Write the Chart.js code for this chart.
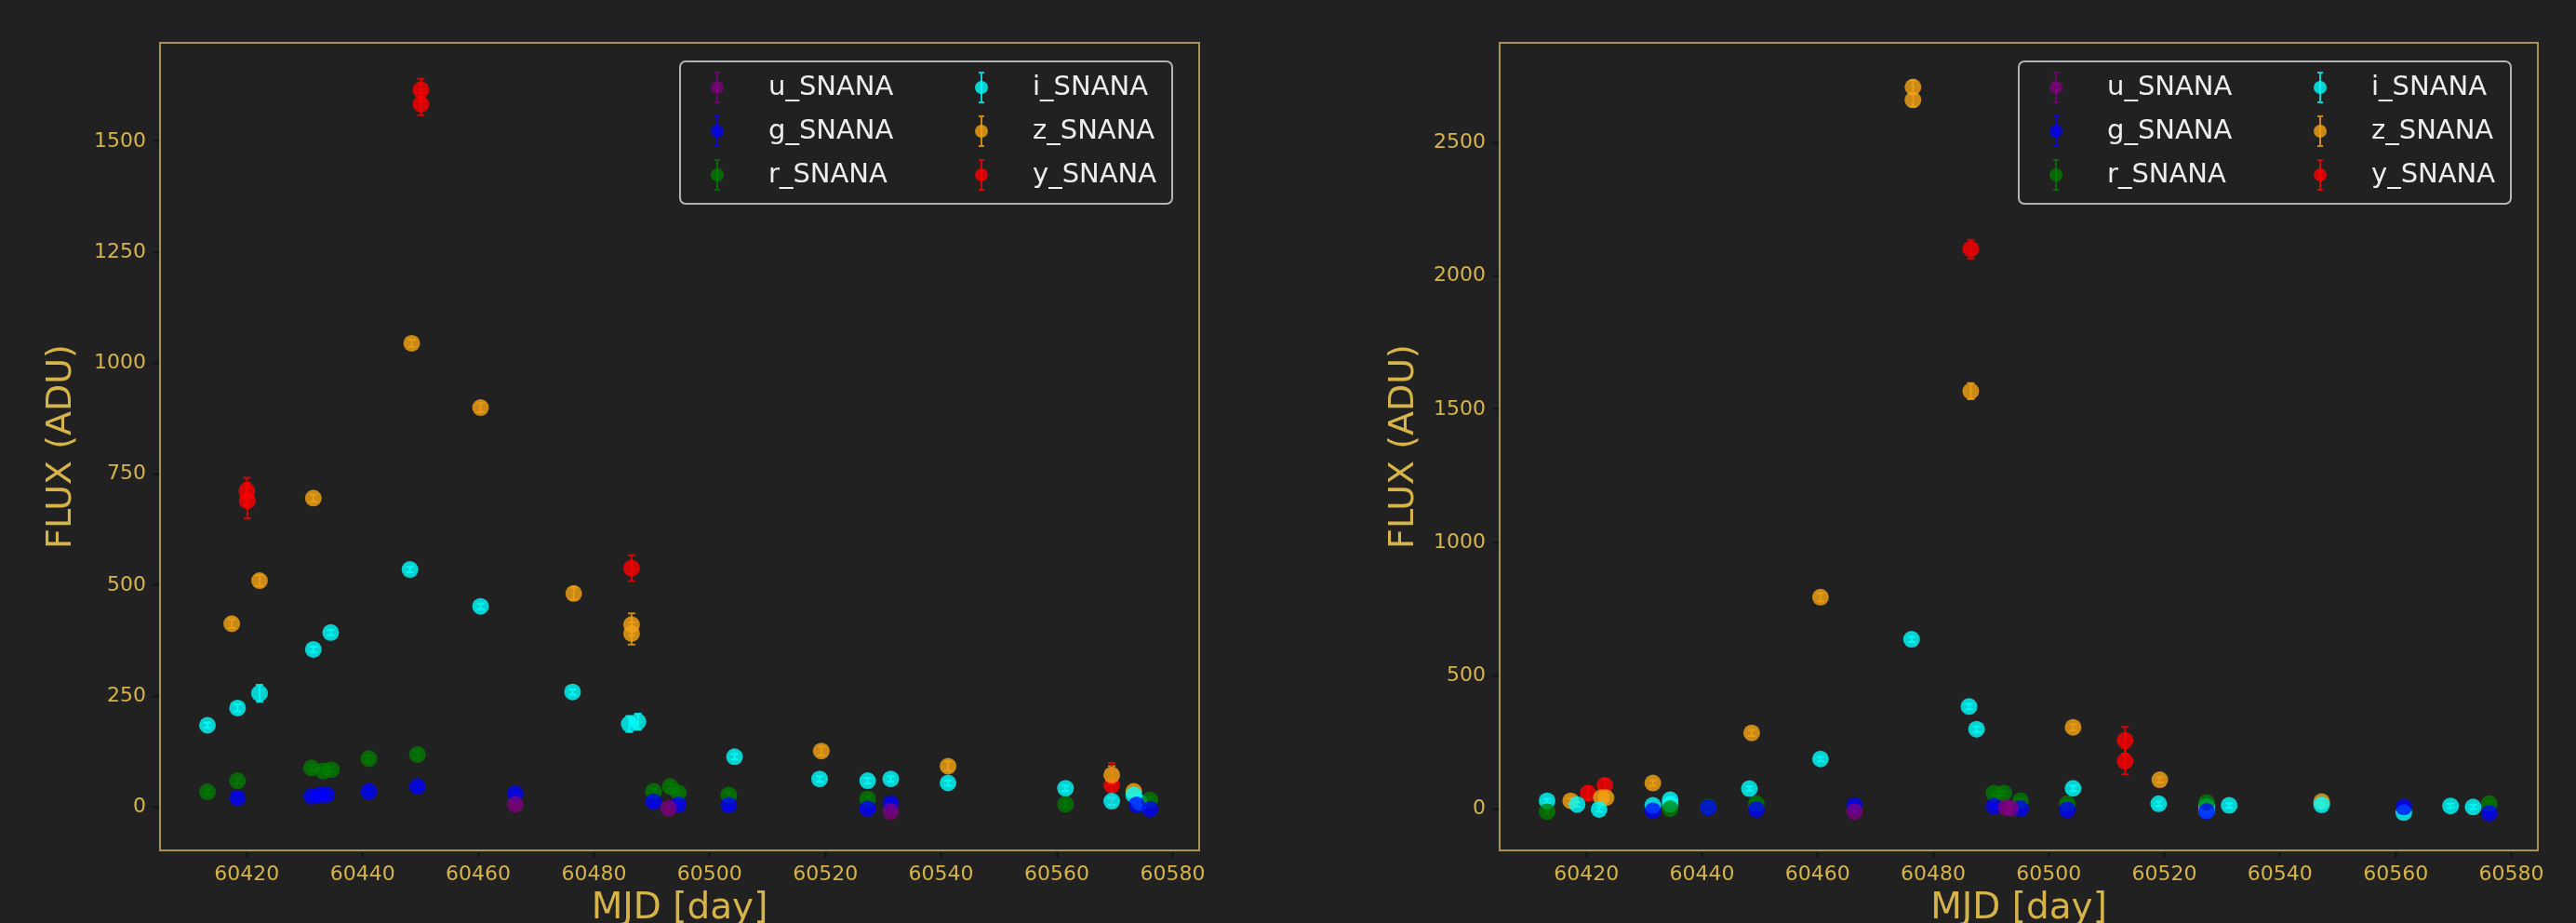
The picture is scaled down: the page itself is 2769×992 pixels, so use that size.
<!DOCTYPE html>
<html>
<head>
<meta charset="utf-8">
<script src="https://cdn.jsdelivr.net/npm/chart.js@4.4.1/dist/chart.umd.min.js"></script>
<style>
  html, body { margin: 0; padding: 0; background: #212121; }
  #wrap { position: relative; width: 2769px; height: 992px; overflow: hidden; }
  canvas { position: absolute; top: 0; }
  #fluxLeft { left: 0; }
  #fluxRight { left: 1384px; }
</style>
</head>
<body>
<div id="wrap">
  <canvas id="fluxLeft" width="1384" height="992"></canvas>
  <canvas id="fluxRight" width="1385" height="992"></canvas>
</div>
<script>
// ---- data (MJD, flux in ADU, 1-sigma error) ----
const bands = ["u_SNANA", "g_SNANA", "r_SNANA", "i_SNANA", "z_SNANA", "y_SNANA"];
const bandColors = ["rgba(128,0,128,0.75)", "rgba(0,0,255,0.75)", "rgba(0,128,0,0.75)",
                    "rgba(0,255,255,0.8)", "rgba(240,160,20,0.82)", "rgba(255,0,0,0.8)"];

const xTicks = [60420, 60440, 60460, 60480, 60500, 60520, 60540, 60560, 60580];
const leftYTicks = [0, 250, 500, 750, 1000, 1250, 1500];
const rightYTicks = [0, 500, 1000, 1500, 2000, 2500];

// left panel
const leftUMjd = [60466.4, 60492.9, 60531.3];
const leftUFlux = [6, -3, -10];
const leftUErr = [6, 6, 6];

const leftGMjd = [60418.4, 60431.2, 60432.6, 60433.8, 60441.1, 60449.5, 60466.4, 60490.3, 60494.6, 60503.3, 60527.3, 60531.3, 60573.8, 60576.1];
const leftGFlux = [20, 24, 27, 28, 35, 46, 30, 12, 5, 4, -4, 8, 5, -5];
const leftGErr = [6, 5, 5, 5, 6, 6, 6, 5, 5, 5, 5, 5, 5, 5];

const leftRMjd = [60413.2, 60418.4, 60431.2, 60433.2, 60434.6, 60441.1, 60449.5, 60490.3, 60493.2, 60494.6, 60503.3, 60527.3, 60561.5, 60576.1];
const leftRFlux = [34, 59, 88, 81, 84, 109, 118, 35, 46, 32, 27, 18, 6, 16];
const leftRErr = [6, 6, 6, 6, 6, 7, 7, 6, 6, 6, 6, 6, 6, 6];

const leftIMjd = [60413.2, 60418.4, 60422.2, 60431.5, 60434.5, 60448.2, 60460.4, 60476.3, 60486.1, 60487.6, 60504.3, 60519.0, 60527.3, 60531.3, 60541.2, 60561.5, 60569.5, 60573.3, 60574.3];
const leftIFlux = [184, 223, 256, 355, 393, 535, 452, 259, 187, 192, 113, 63, 59, 63, 54, 42, 13, 27, 10];
const leftIErr = [6, 8, 19, 6, 6, 6, 6, 6, 18, 18, 6, 6, 6, 6, 6, 6, 8, 6, 6];

const leftZMjd = [60417.4, 60422.2, 60431.5, 60448.5, 60460.4, 60476.5, 60486.5, 60486.5, 60519.3, 60541.2, 60569.5, 60573.3];
const leftZFlux = [413, 510, 696, 1045, 900, 481, 411, 391, 126, 92, 72, 35];
const leftZErr = [10, 12, 8, 8, 10, 14, 25, 25, 10, 10, 20, 8];

const leftYMjd = [60420.0, 60420.1, 60450.1, 60450.1, 60486.5, 60569.5];
const leftYFlux = [712, 690, 1616, 1584, 538, 49];
const leftYErr = [30, 40, 25, 25, 29, 50];

// right panel
const rightUMjd = [60466.4, 60492.6, 60493.4];
const rightUFlux = [-9, 6, 3];
const rightUErr = [8, 8, 8];

const rightGMjd = [60431.5, 60441.1, 60449.4, 60466.4, 60490.5, 60495.1, 60503.2, 60527.3, 60561.4, 60576.2];
const rightGFlux = [-6, 6, -1, 14, 10, 2, -3, -8, 8, -15];
const rightGErr = [8, 8, 8, 8, 8, 8, 8, 8, 8, 8];

const rightRMjd = [60413.2, 60434.5, 60441.1, 60449.4, 60490.5, 60492.2, 60495.1, 60503.2, 60527.3, 60576.2];
const rightRFlux = [-9, 2, 8, 20, 60, 60, 31, 20, 25, 20];
const rightRErr = [8, 8, 8, 8, 8, 8, 8, 8, 8, 8];

const rightIMjd = [60413.2, 60418.4, 60422.2, 60431.5, 60434.5, 60434.5, 60448.2, 60460.5, 60476.25, 60486.2, 60487.5, 60504.2, 60519.0, 60527.3, 60527.3, 60531.2, 60547.2, 60561.4, 60569.5, 60573.4];
const rightIFlux = [31, 17, -1, 14, 35, 18, 77, 188, 637, 385, 300, 78, 20, 10, -6, 14, 16, -13, 12, 8];
const rightIErr = [8, 8, 8, 8, 10, 10, 8, 8, 10, 10, 10, 10, 8, 8, 8, 8, 8, 8, 8, 8];

const rightZMjd = [60417.3, 60422.6, 60423.4, 60431.5, 60448.6, 60460.5, 60476.5, 60476.5, 60486.5, 60504.2, 60519.2, 60547.2];
const rightZFlux = [31, 43, 43, 98, 286, 795, 2709, 2661, 1568, 307, 110, 28];
const rightZErr = [10, 10, 10, 10, 12, 15, 25, 25, 30, 12, 10, 10];

const rightYMjd = [60420.3, 60423.2, 60486.5, 60513.2, 60513.2];
const rightYFlux = [60, 89, 2101, 258, 180];
const rightYErr = [25, 25, 35, 50, 50];

// ---- styling ----
const fontFamily = "'DejaVu Sans', sans-serif";
const goldText = "#d6b44a";
const frameColor = "#a8944e";
const bgColor = "#212121";

function makeDatasets(mjds, fluxes, errs) {
  return bands.map((name, b) => ({
    label: name,
    data: mjds[b].map((m, k) => ({ x: m, y: fluxes[b][k] })),
    errors: errs[b],
    backgroundColor: bandColors[b],
    borderColor: bandColors[b],
    borderWidth: 0,
    pointRadius: 9,
    showLine: false
  }));
}

const bgPlugin = {
  id: "bg",
  beforeDraw(chart) {
    const ctx = chart.ctx;
    ctx.save();
    ctx.fillStyle = bgColor;
    ctx.fillRect(0, 0, chart.width, chart.height);
    ctx.restore();
  }
};

const errorBarPlugin = {
  id: "errorBars",
  beforeDatasetsDraw(chart) {
    const { ctx, scales: { x, y } } = chart;
    ctx.save();
    ctx.lineWidth = 2;
    chart.data.datasets.forEach(ds => {
      ctx.strokeStyle = ds.borderColor;
      ds.data.forEach((p, k) => {
        const e = ds.errors[k];
        const px = x.getPixelForValue(p.x);
        const top = y.getPixelForValue(p.y + e);
        const bot = y.getPixelForValue(p.y - e);
        ctx.beginPath();
        ctx.moveTo(px, top); ctx.lineTo(px, bot);
        ctx.moveTo(px - 4, top); ctx.lineTo(px + 4, top);
        ctx.moveTo(px - 4, bot); ctx.lineTo(px + 4, bot);
        ctx.stroke();
      });
    });
    ctx.restore();
  }
};

// frame + two-column legend in the upper right corner
const frameLegendPlugin = {
  id: "frameLegend",
  afterDraw(chart) {
    const { ctx, chartArea: a } = chart;
    ctx.save();
    ctx.strokeStyle = frameColor;
    ctx.lineWidth = 2;
    ctx.strokeRect(a.left, a.top, a.right - a.left, a.bottom - a.top);

    const w = 529, h = 153;
    const bx = a.right - 29 - w, by = a.top + 20;
    ctx.beginPath();
    ctx.roundRect(bx, by, w, h, 6);
    ctx.fillStyle = "rgba(33,33,33,0.85)";
    ctx.fill();
    ctx.strokeStyle = "#b4b4b4";
    ctx.lineWidth = 2;
    ctx.stroke();

    ctx.font = "29px " + fontFamily;
    ctx.textBaseline = "middle";
    chart.data.datasets.forEach((ds, n) => {
      const col = Math.floor(n / 3), row = n % 3;
      const mx = bx + (col === 0 ? 40 : 324);
      const tx = bx + (col === 0 ? 95 : 379);
      const my = by + 28 + row * 47;
      ctx.strokeStyle = ds.borderColor;
      ctx.lineWidth = 2;
      ctx.beginPath();
      ctx.moveTo(mx, my - 16); ctx.lineTo(mx, my + 16);
      ctx.moveTo(mx - 3, my - 16); ctx.lineTo(mx + 3, my - 16);
      ctx.moveTo(mx - 3, my + 16); ctx.lineTo(mx + 3, my + 16);
      ctx.stroke();
      ctx.fillStyle = ds.backgroundColor;
      ctx.beginPath();
      ctx.arc(mx, my, 7, 0, Math.PI * 2);
      ctx.fill();
      ctx.fillStyle = "#eeeeee";
      ctx.fillText(ds.label, tx, my);
    });
    ctx.restore();
  }
};

function makeChart(id, datasets, yMin, yMax, yTicks, axisWidth, titlePad, padRight) {
  return new Chart(document.getElementById(id), {
    type: "scatter",
    data: { datasets: datasets },
    plugins: [bgPlugin, errorBarPlugin, frameLegendPlugin],
    options: {
      responsive: false,
      animation: false,
      layout: { padding: { top: 46, right: padRight, bottom: 0, left: 0 } },
      plugins: { legend: { display: false }, tooltip: { enabled: false } },
      scales: {
        x: {
          type: "linear",
          min: 60405.0,
          max: 60584.6,
          afterBuildTicks: s => { s.ticks = xTicks.map(v => ({ value: v })); },
          afterFit: s => { s.height = 78; },
          ticks: { color: goldText, font: { family: fontFamily, size: 22 }, padding: 5, maxRotation: 0, callback: v => String(v) },
          grid: { drawOnChartArea: false, tickColor: "#111111", tickLength: 8, tickWidth: 2 },
          border: { display: false },
          title: { display: true, text: "MJD [day]", color: goldText, font: { family: fontFamily, size: 39, lineHeight: 0.8 }, padding: { top: 0, bottom: 0 } }
        },
        y: {
          type: "linear",
          min: yMin,
          max: yMax,
          afterBuildTicks: s => { s.ticks = yTicks.map(v => ({ value: v })); },
          afterFit: s => { s.width = axisWidth; },
          ticks: { color: goldText, font: { family: fontFamily, size: 22 }, padding: 7, callback: v => String(v) },
          grid: { drawOnChartArea: false, tickColor: "#111111", tickLength: 8, tickWidth: 2 },
          border: { display: false },
          title: { display: true, text: "FLUX (ADU)", color: goldText, font: { family: fontFamily, size: 38, lineHeight: 1.2 }, padding: { top: titlePad, bottom: 0 } }
        }
      }
    }
  });
}

makeChart("fluxLeft",
  makeDatasets([leftUMjd, leftGMjd, leftRMjd, leftIMjd, leftZMjd, leftYMjd],
               [leftUFlux, leftGFlux, leftRFlux, leftIFlux, leftZFlux, leftYFlux],
               [leftUErr, leftGErr, leftRErr, leftIErr, leftZErr, leftYErr]),
  -98, 1722, leftYTicks, 172, 43, 95);

makeChart("fluxRight",
  makeDatasets([rightUMjd, rightGMjd, rightRMjd, rightIMjd, rightZMjd, rightYMjd],
               [rightUFlux, rightGFlux, rightRFlux, rightIFlux, rightZFlux, rightYFlux],
               [rightUErr, rightGErr, rightRErr, rightIErr, rightZErr, rightYErr]),
  -155, 2875, rightYTicks, 228, 102, 41);
</script>
</body>
</html>
